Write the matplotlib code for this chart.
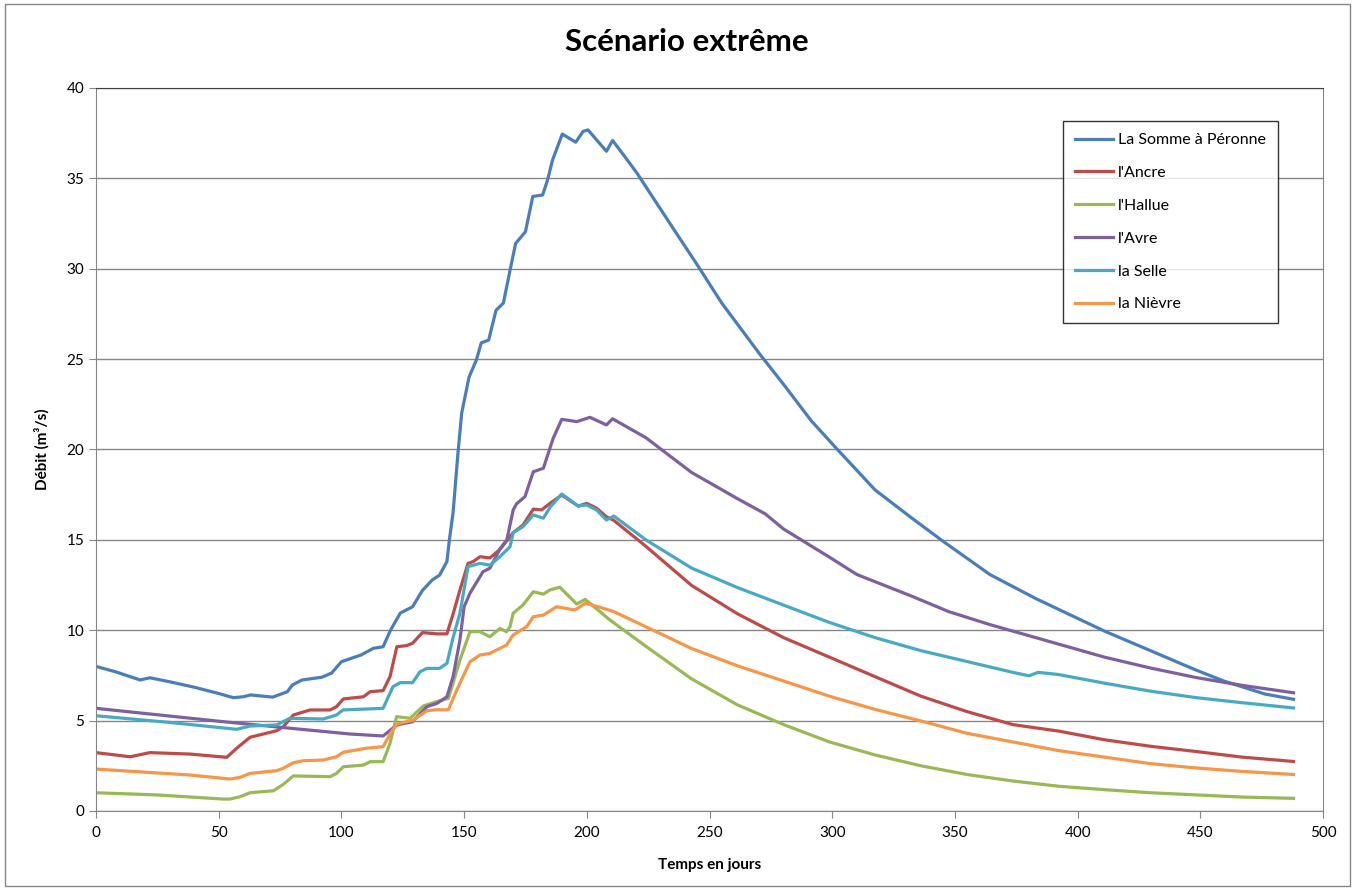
import matplotlib.pyplot as plt
from matplotlib.patches import Rectangle

plt.rcParams['font.family'] = ['Lato', 'DejaVu Sans']

# La Somme à Péronne
somme_j = [0, 8, 18, 22, 30, 40, 50, 56, 60, 63, 72, 78, 80, 84, 92, 96, 100, 103, 108, 113,
           117, 120, 124, 129, 133, 137, 140, 143, 144, 145.5, 147.5, 149, 152, 155, 157, 160,
           163, 166, 169, 171, 175, 178, 182, 184, 186, 190, 195.5, 198.5, 200.5, 208, 210.5,
           215.5, 220.4, 235.4, 244.6, 255, 270.8, 280.2, 291.4, 302.6, 317.5, 332.5, 345.6,
           364.3, 383, 411, 429.7, 448.4, 459.6, 476.4, 488]
somme_q = [8.0, 7.7, 7.25, 7.37, 7.15, 6.85, 6.5, 6.27, 6.32, 6.42, 6.3, 6.6, 6.97, 7.25, 7.4,
           7.63, 8.26, 8.4, 8.63, 9.0, 9.09, 10.0, 10.95, 11.3, 12.2, 12.78, 13.05, 13.8, 15.0,
           16.5, 19.8, 22.0, 24.0, 24.95, 25.9, 26.05, 27.7, 28.1, 30.1, 31.4, 32.05, 34.0, 34.08,
           34.9, 36.0, 37.45, 37.0, 37.6, 37.68, 36.5, 37.1, 36.2, 35.3, 32.19, 30.3, 28.1,
           25.22, 23.6, 21.6, 19.93, 17.76, 16.2, 14.88, 13.08, 11.75, 9.95, 8.87, 7.79, 7.19,
           6.47, 6.18]

# l'Ancre
ancre_j = [0, 13.9, 22, 38.3, 53.3, 57.3, 62.8, 73.6, 76.3, 80.4, 87.2, 95.4, 98, 100.8, 109,
           111.7, 117, 119.8, 122.6, 126.6, 129, 133, 139, 143, 145.6, 148.3, 151.6, 153.7,
           156.5, 160.5, 164.6, 170, 174, 178.2, 181.6, 185, 189.8, 196.5, 200, 204, 208, 211,
           224.1, 242.7, 261.4, 280.2, 298.9, 317.5, 336.2, 354.9, 373.6, 392.3, 411, 429.7,
           448.4, 467.1, 488]
ancre_q = [3.23, 3.0, 3.23, 3.15, 2.97, 3.47, 4.08, 4.44, 4.66, 5.31, 5.59, 5.59, 5.77, 6.2,
           6.32, 6.6, 6.66, 7.43, 9.09, 9.15, 9.28, 9.87, 9.8, 9.8, 10.94, 12.23, 13.7, 13.8,
           14.07, 14.0, 14.47, 15.4, 15.82, 16.7, 16.66, 17.02, 17.48, 16.87, 17.02, 16.75,
           16.28, 16.08, 14.64, 12.48, 10.91, 9.59, 8.51, 7.43, 6.35, 5.5, 4.78, 4.42, 3.94,
           3.58, 3.29, 2.98, 2.74]

# l'Hallue
hallue_j = [0, 24.7, 51.9, 54.6, 58.7, 62.8, 72.3, 76.3, 80.4, 95.4, 98, 100.8, 109, 111.7,
            117, 119.8, 122.5, 128, 133.4, 138.8, 143.6, 148.3, 152.4, 156.5, 160.5, 164.6,
            167.3, 168.7, 170, 174, 178.2, 182.3, 185, 189, 195.9, 199.3, 205.4, 209.1, 224.1,
            242.7, 261.4, 280.2, 298.9, 317.5, 336.2, 354.9, 373.6, 392.3, 411, 429.7, 448.4,
            467.1, 488]
hallue_q = [1.01, 0.89, 0.66, 0.66, 0.79, 1.01, 1.12, 1.47, 1.94, 1.9, 2.08, 2.45, 2.54, 2.73,
            2.73, 3.74, 5.22, 5.13, 5.81, 6.05, 6.23, 8.35, 9.92, 9.92, 9.64, 10.1, 9.92, 10.2,
            10.94, 11.4, 12.13, 12.0, 12.23, 12.38, 11.45, 11.71, 11.03, 10.6, 9.11, 7.31, 5.87,
            4.78, 3.82, 3.1, 2.5, 2.02, 1.66, 1.37, 1.18, 1.01, 0.89, 0.77, 0.7]

# l'Avre
avre_j = [0, 52, 79, 103.5, 117, 122.6, 129, 134.8, 139, 143, 145.5, 148.3, 150, 152.4, 157.7,
          160.5, 164.6, 167.4, 170, 171.4, 174.8, 178.2, 182.3, 186.3, 189.8, 195.9, 201.3, 208,
          210.5, 224.1, 242.7, 261.4, 272.7, 280.2, 298.9, 310.1, 332.5, 347.5, 364.3, 383, 411,
          429.7, 448.4, 467.1, 488]
avre_q = [5.68, 4.94, 4.58, 4.26, 4.15, 4.76, 4.94, 5.77, 5.96, 6.32, 7.43, 9.46, 11.3, 12.05,
          13.24, 13.43, 14.5, 15.0, 16.65, 17.0, 17.39, 18.77, 18.96, 20.62, 21.67, 21.54,
          21.78, 21.36, 21.7, 20.65, 18.73, 17.28, 16.44, 15.6, 14.04, 13.08, 11.88, 11.03,
          10.31, 9.59, 8.51, 7.91, 7.38, 6.95, 6.54]

# la Selle
selle_j = [0, 30, 57.3, 62.8, 73.6, 79, 92.6, 98, 100.6, 117, 121, 124, 129, 132, 134.8, 140,
           143, 145.6, 148.3, 151.6, 156.5, 160.5, 164.6, 168.7, 170, 174, 178.2, 182.3, 185,
           189.8, 196.5, 200, 204, 208, 211, 224.1, 242.7, 261.4, 280.2, 298.9, 317.5, 336.2,
           354.9, 373.6, 380.2, 383.9, 392.3, 411, 429.7, 448.4, 467.1, 488]
selle_q = [5.27, 4.9, 4.52, 4.7, 4.76, 5.13, 5.09, 5.31, 5.59, 5.68, 6.88, 7.1, 7.1, 7.7, 7.89,
           7.89, 8.17, 9.64, 10.94, 13.52, 13.7, 13.6, 14.07, 14.62, 15.4, 15.73, 16.38, 16.2,
           16.8, 17.54, 16.87, 16.93, 16.65, 16.1, 16.32, 15.0, 13.44, 12.36, 11.39, 10.43,
           9.59, 8.87, 8.27, 7.67, 7.48, 7.67, 7.55, 7.07, 6.63, 6.27, 5.99, 5.7]

# la Nièvre
nievre_j = [0, 38.3, 54.6, 58.7, 62.8, 73.6, 76.3, 80.4, 84.4, 92.6, 98, 100.8, 110, 117, 120,
            122.5, 129.3, 134.8, 138.8, 143.6, 147, 152.4, 156.5, 160.5, 167.3, 170, 175.5,
            178.2, 182.3, 187.7, 195.2, 199.3, 205.4, 211, 224.1, 242.7, 261.4, 280.2, 298.9,
            317.5, 336.2, 354.9, 373.6, 392.3, 411, 429.7, 448.4, 467.1, 488]
nievre_q = [2.32, 1.99, 1.77, 1.86, 2.08, 2.23, 2.36, 2.67, 2.78, 2.82, 3.0, 3.25, 3.47, 3.56,
            4.3, 4.81, 5.03, 5.55, 5.6, 5.6, 6.69, 8.26, 8.63, 8.72, 9.18, 9.74, 10.2, 10.75,
            10.84, 11.3, 11.12, 11.49, 11.27, 11.03, 10.19, 8.99, 8.03, 7.19, 6.35, 5.62, 4.98,
            4.3, 3.82, 3.34, 2.98, 2.62, 2.38, 2.19, 2.02]

noms = ["La Somme à Péronne", "l'Ancre", "l'Hallue", "l'Avre", "la Selle", "la Nièvre"]
couleurs = ["#4A7EBB", "#BE4B48", "#98B954", "#7D60A0", "#46AAC5", "#F79646"]

fig = plt.figure(figsize=(13.55, 8.9), dpi=100)
fig.patches.append(Rectangle((0.004, 0.004), 0.992, 0.992, transform=fig.transFigure,
                             fill=False, edgecolor="#868686", lw=1))
ax = fig.add_axes([96 / 1355, 79 / 890, 1227 / 1355, 723 / 890])

series = [(somme_j, somme_q), (ancre_j, ancre_q), (hallue_j, hallue_q),
          (avre_j, avre_q), (selle_j, selle_q), (nievre_j, nievre_q)]
for (j, q), nom, c in zip(series, noms, couleurs):
    ax.plot(j, q, color=c, lw=2.3, label=nom, solid_joinstyle='round')

ax.set_xlim(0, 500)
ax.set_ylim(0, 40)
ax.set_xticks(range(0, 501, 50))
ax.set_yticks(range(0, 41, 5))
ax.yaxis.grid(True, color="#868686", lw=1)
ax.set_axisbelow(True)
for s in ax.spines.values():
    s.set_color("#868686")
ax.spines['top'].set_color("#404040")
ax.tick_params(axis='both', direction='out', color="#868686", labelsize=11, length=5)
ax.tick_params(axis='x', pad=6)

ax.set_xlabel("Temps en jours", fontsize=11, fontweight='bold', labelpad=13)
ax.set_ylabel("Débit (m³/s)", fontsize=11, fontweight='bold', labelpad=12)
fig.suptitle("Scénario extrême", fontsize=22.5, fontweight='bold', x=0.507, y=0.968)

leg = ax.legend(loc='upper left', bbox_to_anchor=(1063 / 1355, 1 - 121 / 890),
                bbox_transform=fig.transFigure, fontsize=11.5, frameon=True, fancybox=False,
                edgecolor="black", handlelength=2.4, handletextpad=0.3, labelspacing=1.17,
                borderpad=0.75, borderaxespad=0)
leg.get_frame().set_linewidth(1)

fig.savefig("out.png", dpi=100)
